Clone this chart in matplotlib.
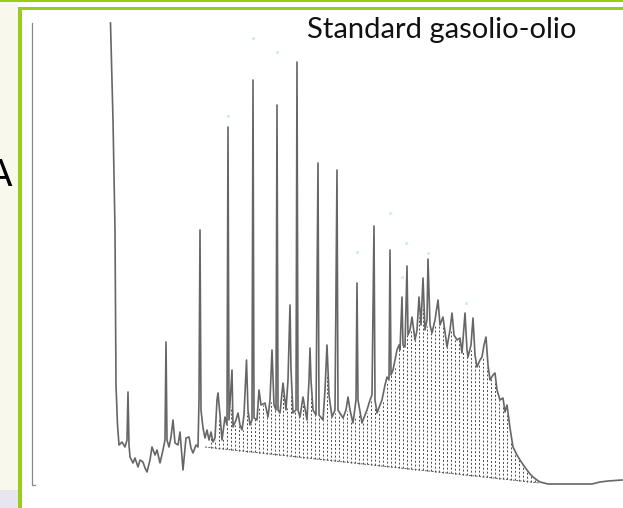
import matplotlib

matplotlib.use("Agg")
import matplotlib.pyplot as plt  # noqa: E402
import numpy as np  # noqa: E402
from matplotlib.patches import Rectangle  # noqa: E402

# Gas-oil / oil standard chromatogram.
# retention time (min) and detector response (arbitrary units)
trace_time = [
    7.95, 8.2, 8.4, 8.5, 8.65, 8.8, 9.1, 9.4, 9.6, 9.7, 9.8, 9.9, 10.2, 10.4,
    10.7, 10.9, 11.2, 11.4, 11.6, 11.9, 12.1, 12.4, 12.6, 12.9, 13.2, 13.4,
    13.5, 13.6, 13.8, 14.0, 14.2, 14.4, 14.7, 14.9, 15.2, 15.5, 15.8, 16.0,
    16.2, 16.5, 16.7, 16.8, 16.9, 17.0, 17.2, 17.4, 17.6, 17.8, 18.0, 18.2,
    18.4, 18.6, 18.7, 18.9, 19.1, 19.4, 19.6, 19.7, 19.8, 20.1, 20.2, 20.5,
    20.7, 20.9, 21.1, 21.3, 21.55, 21.7, 21.9, 22.1, 22.2, 22.3, 22.6, 22.8,
    23.0, 23.4, 23.7, 23.9, 24.1, 24.3, 24.5, 24.6, 24.7, 24.9, 25.2, 25.5,
    25.7, 25.9, 26.0, 26.2, 26.5, 26.6, 26.7, 26.9, 27.2, 27.6, 27.8, 27.9,
    28.0, 28.2, 28.5, 28.7, 28.8, 29.2, 29.4, 29.6, 29.8, 30.1, 30.4, 30.6,
    30.7, 31.2, 31.5, 31.7, 31.9, 32.2, 32.5, 32.6, 32.7, 33.1, 33.4, 33.6,
    33.9, 34.1, 34.3, 34.4, 34.6, 34.9, 35.1, 35.4, 35.6, 35.8, 35.9, 36.0,
    36.2, 36.4, 36.6, 36.8, 36.9, 37.1, 37.2, 37.4, 37.6, 37.7, 37.9, 38.1,
    38.4, 38.6, 38.8, 39.0, 39.2, 39.4, 39.6, 39.7, 39.9, 40.1, 40.4, 40.7,
    40.9, 41.2, 41.6, 41.9, 42.1, 42.3, 42.6, 42.9, 43.1, 43.4, 43.6, 43.7,
    44.0, 44.2, 44.4, 44.6, 44.9, 45.1, 45.3, 45.5, 45.7, 45.9, 46.2, 46.4,
    46.6, 46.9, 47.2, 47.4, 47.6, 47.9, 48.2, 48.6, 48.9, 49.3, 49.6, 49.9,
    50.2, 50.6, 50.9, 51.7, 52.9, 54.4, 56.1, 56.9, 57.7, 59.1,
]
trace_signal = [
    467, 370, 260, 105, 65, 45, 48, 43, 50, 98, 45, 33, 27, 32,
    23, 30, 28, 22, 18, 30, 43, 35, 40, 27, 40, 50,
    148, 50, 43, 53, 70, 47, 45, 58, 20, 52, 53, 42,
    37, 45, 43, 90, 260, 80, 62, 52, 60, 50, 58, 48,
    52, 90, 97, 75, 50, 73, 65, 363, 70, 120, 63, 70,
    77, 65, 60, 75, 130, 80, 65, 70, 410, 72, 70, 100,
    85, 87, 73, 90, 140, 85, 80, 385, 80, 77, 107, 80,
    110, 185, 120, 77, 80, 428, 80, 73, 93, 70, 110, 142,
    110, 80, 75, 327, 75, 70, 100, 145, 95, 73, 80, 320,
    80, 72, 80, 93, 80, 67, 90, 207, 90, 67, 75, 80,
    90, 95, 264, 90, 77, 85, 90, 105, 113, 110, 240, 115,
    120, 130, 140, 145, 140, 193, 145, 143, 224, 155, 160, 173,
    150, 160, 193, 165, 212, 160, 170, 231, 165, 157, 170, 190,
    165, 173, 143, 160, 177, 155, 150, 152, 137, 177, 140, 133,
    145, 172, 135, 123, 130, 133, 145, 153, 125, 110, 115, 117,
    100, 90, 92, 78, 85, 62, 43, 35, 30, 24, 20, 16,
    13, 10, 8, 6, 6, 6, 6, 8, 9, 10,
]

# integration baseline under the unresolved hump
baseline_time = [17.4, 50.9]
baseline_signal = [43, 7]

# faint peak-label marks of the data system
label_time = [19.7, 22.2, 24.6, 32.6, 35.9, 37.1, 37.5, 39.7, 43.5]
label_signal = [374, 452, 438, 238, 277, 213, 247, 237, 187]

TITLE = "Standard gasolio-olio"

GREEN = "#9acd1a"
CREAM = "#f9f8ec"
TRACE = "#666666"

fig = plt.figure(figsize=(6.23, 5.08), dpi=100)
fig.patch.set_facecolor("white")

# slide decoration: cream strip, green frame lines
fig.add_artist(Rectangle((0, 0), 0.0289, 1, transform=fig.transFigure,
                         color=CREAM, lw=0, zorder=0))
fig.add_artist(Rectangle((0, 0), 0.0289, 0.0354, transform=fig.transFigure,
                         color="#e7e5ef", lw=0, zorder=0))
fig.add_artist(Rectangle((0, 0.996), 1, 0.004, transform=fig.transFigure,
                         color=GREEN, lw=0, zorder=1))
fig.add_artist(Rectangle((0.0289, 0.9803), 0.9711, 0.0059, transform=fig.transFigure,
                         color=GREEN, lw=0, zorder=1))
fig.add_artist(Rectangle((0.0289, 0), 0.0064, 0.9862, transform=fig.transFigure,
                         color=GREEN, lw=0, zorder=1))
# slide letter cut by the left edge, as in the source slide
fig.text(0.0193, 1 - 176 / 508, "A", ha="right", va="center",
         fontsize=27, color="black", family="DejaVu Sans")

ax = fig.add_axes([0.04976, 0.03543, 0.95024, 0.9252])
ax.set_facecolor("none")
ax.set_xlim(0, 59.2)
ax.set_ylim(0, 470)
ax.axis("off")

# left bracket of the instrument plot
ax.plot([0.05, 0.05, 0.4], [467, 5, 5], color="#8a8a8a", lw=0.9,
        solid_joinstyle="miter")

# dotted drop-lines between baseline and trace
drop_t = np.arange(18.0, 50.7, 0.4)
base = np.interp(drop_t, baseline_time, baseline_signal)
top = np.minimum.reduce([np.interp(drop_t + d, trace_time, trace_signal)
                         for d in (-0.12, 0.0, 0.12)])
ax.vlines(drop_t, base, top, colors="#4a4a4a", lw=0.7,
          linestyles=(0, (2.0, 2.0)))
ax.plot(baseline_time, baseline_signal, color="#555555", lw=0.7,
        linestyle=(0, (2.0, 1.5)))

ax.plot(trace_time, trace_signal, color=TRACE, lw=1.2)
ax.scatter(label_time, label_signal, s=5, color="#cdeee8", lw=0)

fig.text(307 / 623, 1 - 38 / 508, TITLE, ha="left", va="baseline",
         fontsize=21, family="Lato", color="#111111")

fig.savefig("out.png", dpi=100)
